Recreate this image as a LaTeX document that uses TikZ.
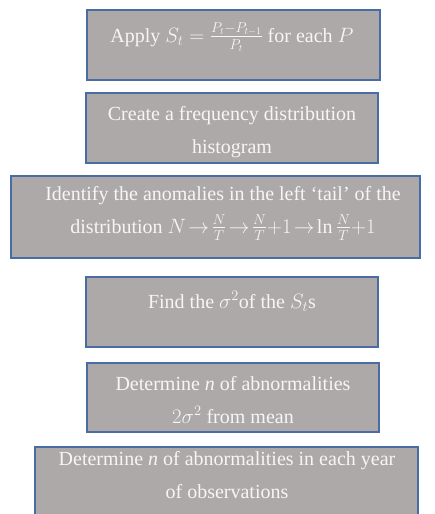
\documentclass[tikz,border=0pt]{standalone}
\usepackage{amsmath}
\usepackage{fontspec}
\setmainfont{Liberation Serif}
\usepackage{tikz}

\definecolor{boxgray}{RGB}{173,169,168}
\definecolor{boxblue}{RGB}{72,108,163}
\definecolor{boxtext}{RGB}{246,246,246}

\tikzset{
    stepbox/.style={draw=boxblue, fill=boxgray, line width=1.1pt},
    steptext/.style={text=boxtext, align=center, anchor=base, inner sep=0pt,
        font=\fontsize{20}{33}\selectfont}
}

\begin{document}
\begin{tikzpicture}[x=1pt, y=-1pt]
    \useasboundingbox (0, 0) rectangle (435, 514);
    \clip (0, 0) rectangle (435, 514);

    % the boxes
    \draw[stepbox] (87, 10) rectangle (380, 80);
    \draw[stepbox] (86, 93) rectangle (378, 163);
    \draw[stepbox] (11, 176) rectangle (420, 258);
    \draw[stepbox] (86, 277) rectangle (378, 347);
    \draw[stepbox] (87, 363) rectangle (379, 432);
    \draw[stepbox] (35, 447) rectangle (418, 530);

    % the texts (anchored on the baseline of the last line)
    \node[steptext] (apply) at (232, 42)
        {Apply $S_t = \frac{P_t - P_{t-1}}{P_t}$ for each $P$};
    \node[steptext] (hist) at (232, 153)
        {Create a frequency distribution\\histogram};
    \node[steptext] (tail) at (223, 233)
        {Identify the anomalies in the left `tail' of the\\
         distribution $N\!\to\!\frac{N}{T}\!\to\!\frac{N}{T}{+}1\!\to\!\ln\frac{N}{T}{+}1$};
    \node[steptext] (sigma) at (232, 308)
        {Find the $\sigma^2$of the $S_t$s};
    \node[steptext] (abnorm) at (233, 423)
        {Determine \textit{n} of abnormalities\\$2\sigma^2$ from mean};
    \node[steptext] (years) at (227, 498)
        {Determine \textit{n} of abnormalities in each year\\of observations};
\end{tikzpicture}
\end{document}
